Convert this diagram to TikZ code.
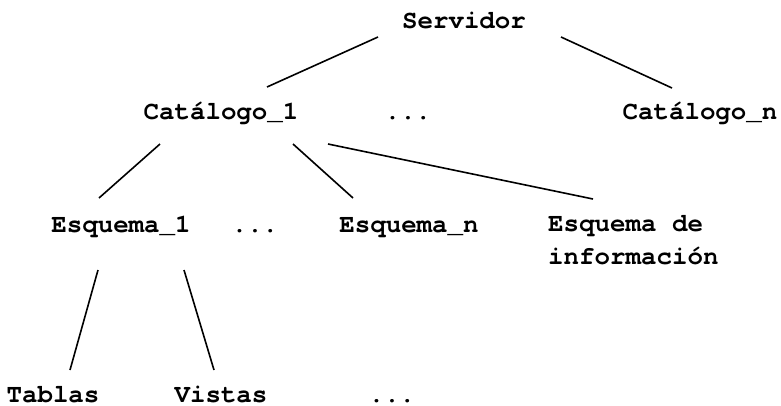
\documentclass[tikz,border=0pt]{standalone}
\usepackage{fontspec}
\setmonofont{TeX Gyre Cursor}
\begin{document}
\begin{tikzpicture}[x=1pt,y=-1pt,
  lbl/.style={inner sep=0pt,anchor=base,font=\fontsize{25.8}{33}\selectfont\ttfamily\bfseries},
  edge/.style={line width=1.6pt,black}]
\useasboundingbox (0,0) rectangle (781,405);
\node[lbl] (serv) at (464,28) {Servidor};
\node[lbl] (cat1) at (221,119) {Catálogo\_1};
\node[lbl] (dots1) at (408,119) {...};
\node[lbl] (catn) at (700,119) {Catálogo\_n};
\node[lbl] (esq1) at (121,232) {Esquema\_1};
\node[lbl] (dots2) at (255,232) {...};
\node[lbl] (esqn) at (409,232) {Esquema\_n};
\node[lbl,anchor=base west,align=left] (info) at (548,264) {Esquema de\\información};
\node[lbl] (tablas) at (53,402) {Tablas};
\node[lbl] (vistas) at (221,402) {Vistas};
\node[lbl] (dots3) at (392,402) {...};
\draw[edge] ([shift={(-86,9)}]serv.base) -- ([shift={(46,-32)}]cat1.base);
\draw[edge] ([shift={(97,9)}]serv.base) -- ([shift={(-28,-31)}]catn.base);
\draw[edge] ([shift={(-61,25)}]cat1.base) -- ([shift={(-22,-34)}]esq1.base);
\draw[edge] ([shift={(72,25)}]cat1.base) -- ([shift={(-56,-34)}]esqn.base);
\draw[edge] ([shift={(107,25)}]cat1.base) -- ([shift={(45,-65)}]info.base west);
\draw[edge] ([shift={(-23,38)}]esq1.base) -- ([shift={(17,-32)}]tablas.base);
\draw[edge] ([shift={(63,38)}]esq1.base) -- ([shift={(-7,-32)}]vistas.base);
\end{tikzpicture}
\end{document}
